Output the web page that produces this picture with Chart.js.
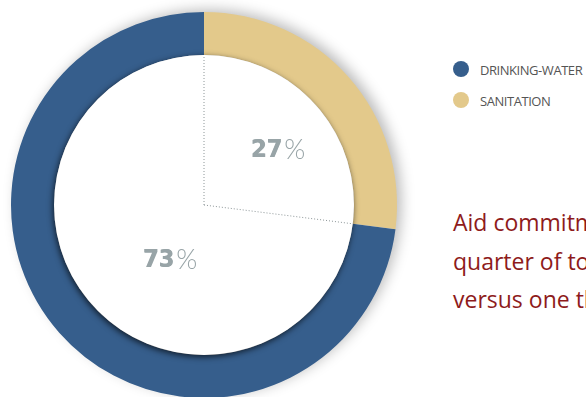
<!DOCTYPE html>
<html>
<head>
<meta charset="utf-8">
<script src="https://cdn.jsdelivr.net/npm/chart.js@4"></script>
<style>
  html, body { margin: 0; padding: 0; background: #fff; width: 586px; height: 397px; overflow: hidden; }
  #wrap { position: absolute; left: 0; top: 0; width: 440px; height: 410px; }
  #legend { position: absolute; left: 452px; top: 60px; font-family: "Open Sans", sans-serif; font-size: 13px; color: #555; letter-spacing: -0.45px; }
  #legend .row { position: relative; height: 31px; line-height: 20px; padding-left: 28px; white-space: nowrap; }
  #legend .dot { position: absolute; left: 1px; top: 1px; width: 16px; height: 16px; border-radius: 50%; }
  #note { position: absolute; left: 453px; top: 203px; font-family: "Open Sans", sans-serif; font-size: 23px; line-height: 38.5px; color: #8e1b1b; white-space: nowrap; }
</style>
</head>
<body>
<div id="wrap"><canvas id="c" width="440" height="410"></canvas></div>
<div id="legend"></div>
<div id="note">Aid commitments for sanitation were only a<br>quarter of total aid to the water sector,<br>versus one third in the early 2000s.</div>
<script>
// Share of aid commitments, drawn clockwise from 12 o'clock
const categories = ['SANITATION', 'DRINKING-WATER'];
const shares = [27, 73];
const colors = ['#e3c98b', '#365e8c'];
// Legend lists drinking-water first
const legendOrder = [1, 0];

const legendEl = document.getElementById('legend');
legendOrder.forEach(i => {
  const row = document.createElement('div');
  row.className = 'row';
  const dot = document.createElement('span');
  dot.className = 'dot';
  dot.style.background = colors[i];
  row.appendChild(dot);
  row.appendChild(document.createTextNode(categories[i]));
  legendEl.appendChild(row);
});

// Soft shadow around the ring, white raised disc in the hole,
// dotted guides from the centre to each slice boundary and the percentage labels
const ringDecor = {
  id: 'ringDecor',
  beforeDatasetsDraw(chart) {
    const arc = chart.getDatasetMeta(0).data[0];
    const { x, y, outerRadius } = arc.getProps(['x', 'y', 'outerRadius'], true);
    const ctx = chart.ctx;
    ctx.save();
    ctx.shadowColor = 'rgba(0,0,0,0.28)';
    ctx.shadowBlur = 14;
    ctx.shadowOffsetX = 5;
    ctx.shadowOffsetY = -3;
    ctx.fillStyle = '#ffffff';
    ctx.beginPath();
    ctx.arc(x, y, outerRadius - 1, 0, Math.PI * 2);
    ctx.fill();
    ctx.restore();
  },
  afterDatasetsDraw(chart) {
    const meta = chart.getDatasetMeta(0);
    const first = meta.data[0].getProps(['x', 'y', 'innerRadius', 'outerRadius'], true);
    const cx = first.x, cy = first.y, r = first.innerRadius;
    const ctx = chart.ctx;

    // raised white disc
    ctx.save();
    ctx.shadowColor = 'rgba(0,0,0,0.7)';
    ctx.shadowBlur = 6;
    ctx.shadowOffsetX = -1;
    ctx.shadowOffsetY = 2;
    ctx.fillStyle = '#ffffff';
    ctx.beginPath();
    ctx.arc(cx, cy, r, 0, Math.PI * 2);
    ctx.fill();
    ctx.restore();

    // dotted guides to the boundaries of the first slice
    const s = meta.data[0].getProps(['startAngle', 'endAngle'], true);
    ctx.save();
    ctx.strokeStyle = '#8d9698';
    ctx.lineWidth = 1;
    ctx.setLineDash([1, 2]);
    [s.startAngle, s.endAngle].forEach(a => {
      ctx.beginPath();
      ctx.moveTo(cx, cy);
      ctx.lineTo(cx + Math.cos(a) * (r - 1), cy + Math.sin(a) * (r - 1));
      ctx.stroke();
    });
    ctx.restore();

    // percentage labels: heavy numerals and a light percent sign
    const anchors = [ { dx: 74, dy: -55 }, { dx: -34, dy: 55 } ];
    const numFont = 'bold 25px "DejaVu Sans Condensed", "DejaVu Sans", sans-serif';
    const pctFont = '300 27px Lato, "Open Sans", sans-serif';
    shares.forEach((v, i) => {
      const num = String(v);
      const px = cx + anchors[i].dx, py = cy + anchors[i].dy;
      ctx.save();
      ctx.fillStyle = '#98a4a7';
      ctx.textBaseline = 'middle';
      ctx.textAlign = 'left';
      ctx.font = numFont;
      const wNum = ctx.measureText(num).width;
      ctx.font = pctFont;
      const wPct = ctx.measureText('%').width;
      const left = px - (wNum + 2 + wPct) / 2;
      ctx.font = numFont;
      ctx.fillText(num, left, py);
      ctx.fillText(num, left + 0.6, py);
      ctx.font = pctFont;
      ctx.fillText('%', left + wNum + 2, py);
      ctx.restore();
    });
  }
};

new Chart(document.getElementById('c'), {
  type: 'doughnut',
  data: {
    labels: categories,
    datasets: [{
      data: shares,
      backgroundColor: colors,
      borderWidth: 0,
      hoverOffset: 0
    }]
  },
  options: {
    responsive: false,
    animation: false,
    cutout: '77.7%',
    rotation: 0,
    layout: { padding: { left: 11, right: 43, top: 12, bottom: 12 } },
    plugins: {
      legend: { display: false },
      tooltip: { enabled: false }
    }
  },
  plugins: [ringDecor]
});
</script>
</body>
</html>
